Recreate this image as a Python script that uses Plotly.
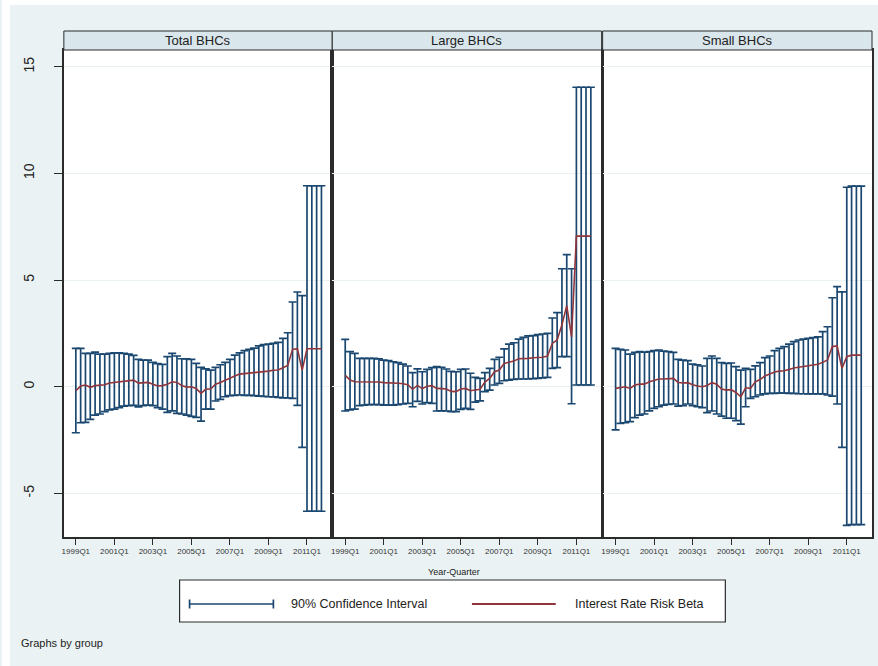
import plotly.graph_objects as go

# ---------------- data ----------------
quarters = [f"{y}Q{q}" for y in range(1999, 2012) for q in range(1, 5)]
tick_labels = ["1999Q1", "2001Q1", "2003Q1", "2005Q1", "2007Q1", "2009Q1", "2011Q1"]
groups = ["Total BHCs", "Large BHCs", "Small BHCs"]
y_ticks = [-5, 0, 5, 10, 15]
y_tick_text = ["-5", "0", "5", "10", "15"]

beta_total = [-0.19, 0.03, 0.08, -0.03, 0.05, 0.08, 0.09, 0.17, 0.20, 0.25,
              0.28, 0.31, 0.31, 0.17, 0.17, 0.20, 0.12, 0.03, 0.05, 0.11,
              0.23, 0.20, 0.05, -0.02, 0.00, -0.08, -0.31, -0.11, -0.11, 0.12,
              0.20, 0.31, 0.42, 0.50, 0.59, 0.61, 0.64, 0.67, 0.70, 0.72,
              0.73, 0.77, 0.78, 0.89, 1.00, 1.75, 1.78, 0.78, 1.78, 1.78,
              1.78, 1.78]
upper_total = [1.80, 1.80, 1.56, 1.56, 1.62, 1.53, 1.53, 1.56, 1.59, 1.59,
               1.56, 1.53, 1.47, 1.28, 1.25, 1.25, 1.14, 1.08, 1.05, 1.41,
               1.56, 1.44, 1.31, 1.30, 1.28, 1.09, 0.91, 0.84, 0.78, 0.91,
               1.03, 1.14, 1.28, 1.48, 1.59, 1.69, 1.75, 1.81, 1.91, 1.97,
               2.00, 2.03, 2.08, 2.27, 2.53, 3.97, 4.44, 4.27, 9.42, 9.42,
               9.42, 9.42]
lower_total = [-2.16, -1.69, -1.67, -1.53, -1.33, -1.28, -1.17, -1.09, -1.05, -0.98,
               -0.91, -0.89, -0.88, -0.95, -0.89, -0.86, -0.89, -0.98, -1.05, -1.20,
               -1.13, -1.25, -1.28, -1.33, -1.39, -1.44, -1.61, -1.05, -1.05, -0.67,
               -0.59, -0.47, -0.42, -0.41, -0.39, -0.41, -0.41, -0.42, -0.44, -0.45,
               -0.47, -0.48, -0.50, -0.52, -0.53, -0.55, -0.88, -2.84, -5.84, -5.84,
               -5.84, -5.84]

beta_large = [0.53, 0.31, 0.23, 0.23, 0.23, 0.25, 0.23, 0.22, 0.19, 0.19,
              0.16, 0.16, 0.14, 0.09, -0.12, 0.06, -0.09, 0.02, 0.05, -0.08,
              -0.09, -0.11, -0.22, -0.23, -0.11, -0.08, -0.19, -0.14, -0.12, 0.22,
              0.39, 0.70, 0.78, 1.09, 1.16, 1.20, 1.31, 1.31, 1.33, 1.36,
              1.36, 1.38, 1.44, 2.03, 2.19, 2.90, 3.80, 2.34, 7.06, 7.06,
              7.06, 7.06]
upper_large = [2.22, 1.64, 1.56, 1.33, 1.33, 1.33, 1.33, 1.30, 1.25, 1.22,
               1.17, 1.13, 1.06, 0.97, 0.66, 0.84, 0.70, 0.81, 0.89, 0.94,
               0.91, 0.83, 0.72, 0.70, 0.81, 0.83, 0.63, 0.44, 0.39, 0.66,
               0.86, 1.28, 1.38, 1.77, 2.00, 2.06, 2.23, 2.31, 2.38, 2.39,
               2.44, 2.47, 2.50, 3.22, 3.47, 5.53, 6.19, 5.53, 14.04, 14.04,
               14.04, 14.04]
lower_large = [-1.14, -1.09, -1.05, -0.89, -0.86, -0.84, -0.84, -0.84, -0.86, -0.86,
               -0.86, -0.84, -0.81, -0.78, -0.94, -0.69, -0.81, -0.75, -0.78, -1.14,
               -1.13, -1.14, -1.17, -1.17, -1.06, -1.02, -1.06, -0.72, -0.66, -0.23,
               -0.16, 0.08, 0.16, 0.28, 0.31, 0.34, 0.36, 0.36, 0.36, 0.38,
               0.39, 0.41, 0.44, 0.86, 0.89, 1.41, 1.41, -0.80, 0.08, 0.08,
               0.08, 0.08]

beta_small = [-0.08, -0.03, 0.00, -0.08, 0.08, 0.12, 0.12, 0.23, 0.31, 0.36,
              0.36, 0.39, 0.39, 0.20, 0.17, 0.19, 0.09, 0.03, 0.00, 0.06,
              0.19, 0.12, -0.11, -0.16, -0.14, -0.27, -0.47, -0.05, -0.08, 0.23,
              0.34, 0.50, 0.58, 0.69, 0.73, 0.75, 0.81, 0.88, 0.91, 0.94,
              0.97, 1.00, 1.05, 1.14, 1.25, 1.88, 1.91, 0.86, 1.41, 1.48,
              1.48, 1.48]
upper_small = [1.80, 1.75, 1.72, 1.53, 1.61, 1.64, 1.62, 1.64, 1.69, 1.72,
               1.67, 1.64, 1.61, 1.28, 1.25, 1.22, 1.06, 1.02, 0.97, 1.33,
               1.44, 1.33, 1.13, 1.09, 1.11, 0.94, 0.78, 0.86, 0.81, 0.98,
               1.13, 1.36, 1.44, 1.69, 1.80, 1.88, 2.00, 2.11, 2.19, 2.23,
               2.27, 2.30, 2.34, 2.58, 2.81, 4.17, 4.69, 4.45, 9.35, 9.40,
               9.40, 9.40]
lower_small = [-2.02, -1.72, -1.69, -1.64, -1.45, -1.33, -1.28, -1.13, -1.02, -0.94,
               -0.86, -0.83, -0.81, -0.91, -0.89, -0.81, -0.89, -0.94, -0.98, -1.22,
               -1.14, -1.28, -1.38, -1.48, -1.48, -1.59, -1.75, -0.94, -0.55, -0.47,
               -0.39, -0.34, -0.31, -0.31, -0.30, -0.30, -0.31, -0.31, -0.33, -0.33,
               -0.34, -0.34, -0.34, -0.34, -0.39, -0.44, -0.81, -2.84, -6.50, -6.47,
               -6.47, -6.47]

series = [
    (beta_total, upper_total, lower_total),
    (beta_large, upper_large, lower_large),
    (beta_small, upper_small, lower_small),
]

# ---------------- style / layout ----------------
W, H = 878, 666
FONT = "Liberation Sans, Arial, Helvetica, sans-serif"
NAVY = "#1A476F"
MAROON = "#90353B"
BG = "#EAF2F3"
STRIP = "#D9E6EB"
AXC = "#2b2b2b"


def fx(x):
    return x / W


def fy(y):
    return 1 - y / H


panels = [(62, 331), (331, 601), (602, 872)]
first_tick_px = [74, 344, 615]
q_px = 4.827
ytop, ybot = 50, 537
zero_px, unit_px = 386.7, 21.33
y_range = [(zero_px - ybot) / unit_px, (zero_px - ytop) / unit_px]

fig = go.Figure()

for k, (beta, up, lo) in enumerate(series):
    xa = "x" if k == 0 else f"x{k + 1}"
    ya = "y" if k == 0 else f"y{k + 1}"
    fig.add_trace(go.Scatter(
        x=quarters, y=beta, mode="markers",
        marker=dict(size=2, opacity=0),
        error_y=dict(type="data", symmetric=False,
                     array=[u - b for u, b in zip(up, beta)],
                     arrayminus=[b - l for b, l in zip(beta, lo)],
                     color=NAVY, thickness=1.7, width=4),
        xaxis=xa, yaxis=ya, showlegend=False, hoverinfo="skip",
        name="90% Confidence Interval"))
    fig.add_trace(go.Scatter(
        x=quarters, y=beta, mode="lines",
        line=dict(color=MAROON, width=1.6),
        xaxis=xa, yaxis=ya, showlegend=False,
        name="Interest Rate Risk Beta"))

layout = dict(
    width=W, height=H,
    margin=dict(l=0, r=0, t=0, b=0),
    paper_bgcolor=BG, plot_bgcolor="white",
    font=dict(family=FONT, color="#222"),
    showlegend=False,
)

shapes = []
annotations = []
for k, (x0, x1) in enumerate(panels):
    sfx = "" if k == 0 else str(k + 1)
    t0 = first_tick_px[k]
    layout["xaxis" + sfx] = dict(
        domain=[fx(x0), fx(x1)],
        anchor="y" + sfx,
        type="category",
        range=[-(t0 - x0) / q_px, (x1 - t0) / q_px],
        tickmode="array", tickvals=tick_labels, ticktext=tick_labels,
        ticks="outside", ticklen=6, tickwidth=1, tickcolor=AXC,
        tickfont=dict(size=8, color="#333"),
        showgrid=False, zeroline=False,
        showline=True, mirror=True, linecolor=AXC, linewidth=1.6,
    )
    ydict = dict(
        domain=[fy(ybot), fy(ytop)],
        anchor="x" + sfx,
        range=y_range,
        tickmode="array", tickvals=y_ticks, ticktext=y_tick_text,
        showgrid=True, gridcolor=BG, gridwidth=1,
        zeroline=False,
        showline=True, mirror=True, linecolor=AXC, linewidth=1.6,
    )
    if k == 0:
        ydict.update(ticks="outside", ticklen=8, tickwidth=1, tickcolor=AXC,
                     tickangle=-90, tickfont=dict(size=14, color="#222"),
                     ticklabelstandoff=14)
    else:
        ydict.update(showticklabels=False, ticks="")
    layout["yaxis" + sfx] = ydict

    # strip header
    shapes.append(dict(type="rect", xref="paper", yref="paper",
                       x0=fx(x0), x1=fx(x1), y0=fy(ytop), y1=fy(31),
                       fillcolor=STRIP, line=dict(color=AXC, width=1)))
    annotations.append(dict(text=groups[k], xref="paper", yref="paper",
                            x=fx((x0 + x1) / 2), y=fy(40.5), showarrow=False,
                            xanchor="center", yanchor="middle",
                            font=dict(size=13, color="#222")))

# white page margins around the exported graph
shapes.append(dict(type="rect", xref="paper", yref="paper", x0=0, x1=1,
                   y0=fy(5), y1=1, fillcolor="white", line=dict(width=0),
                   layer="below"))
shapes.append(dict(type="rect", xref="paper", yref="paper", x0=0, x1=fx(8),
                   y0=0, y1=1, fillcolor="white", line=dict(width=0),
                   layer="below"))

# x title
annotations.append(dict(text="Year-Quarter", xref="paper", yref="paper",
                        x=fx(453), y=fy(572), showarrow=False,
                        xanchor="center", yanchor="middle",
                        font=dict(size=9, color="#222")))

# legend box
lx0, lx1, ly0, ly1 = 178, 725, 580, 622
ly = 604
shapes.append(dict(type="rect", xref="paper", yref="paper",
                   x0=fx(lx0), x1=fx(lx1), y0=fy(ly1), y1=fy(ly0),
                   fillcolor="white", line=dict(color=AXC, width=1.2)))
# CI key
shapes.append(dict(type="line", xref="paper", yref="paper",
                   x0=fx(188), x1=fx(272), y0=fy(ly), y1=fy(ly),
                   line=dict(color=NAVY, width=1.7)))
for xc in (188, 272):
    shapes.append(dict(type="line", xref="paper", yref="paper",
                       x0=fx(xc), x1=fx(xc), y0=fy(ly - 4.5), y1=fy(ly + 4.5),
                       line=dict(color=NAVY, width=1.7)))
# beta key
shapes.append(dict(type="line", xref="paper", yref="paper",
                   x0=fx(471), x1=fx(555), y0=fy(ly), y1=fy(ly),
                   line=dict(color=MAROON, width=2)))
annotations.append(dict(text="90% Confidence Interval", xref="paper", yref="paper",
                        x=fx(288), y=fy(ly), showarrow=False,
                        xanchor="left", yanchor="middle",
                        font=dict(size=12.5, color="#222")))
annotations.append(dict(text="Interest Rate Risk Beta", xref="paper", yref="paper",
                        x=fx(572), y=fy(ly), showarrow=False,
                        xanchor="left", yanchor="middle",
                        font=dict(size=12.5, color="#222")))

annotations.append(dict(text="Graphs by group", xref="paper", yref="paper",
                        x=fx(17), y=fy(643), showarrow=False,
                        xanchor="left", yanchor="middle",
                        font=dict(size=11, color="#222")))

layout["shapes"] = shapes
layout["annotations"] = annotations
fig.update_layout(**layout)

fig.write_html("out.html",
               config={"displayModeBar": False},
               post_script="document.body.style.margin='0';"
                           "document.body.style.overflow='hidden';")
